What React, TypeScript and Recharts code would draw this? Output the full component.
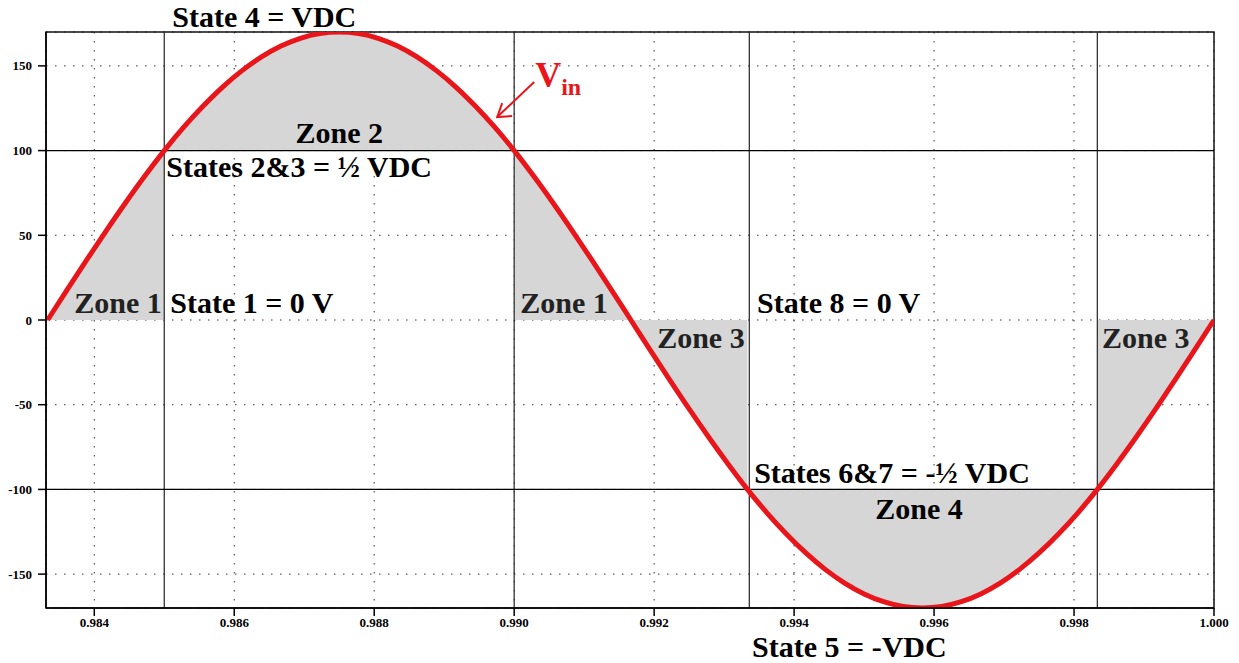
import React from "react";
import {
  ComposedChart,
  Line,
  Area,
  XAxis,
  YAxis,
  CartesianGrid,
  ReferenceLine,
  ReferenceDot,
  ReferenceArea,
} from "recharts";

// Sampled input voltage Vin over one 60 Hz cycle (seconds, volts)
const timeS = [
  0.983333, 0.983611, 0.983889, 0.984167, 0.984444, 0.984722, 0.985, 0.985278,
  0.985556, 0.985833, 0.986111, 0.986389, 0.986667, 0.986944, 0.987222, 0.9875,
  0.987778, 0.988056, 0.988333, 0.988611, 0.988889, 0.989167, 0.989444, 0.989722,
  0.99, 0.990278, 0.990556, 0.990833, 0.991111, 0.991389, 0.991667, 0.991944,
  0.992222, 0.9925, 0.992778, 0.993056, 0.993333, 0.993611, 0.993889, 0.994167,
  0.994444, 0.994722, 0.995, 0.995278, 0.995556, 0.995833, 0.996111, 0.996389,
  0.996667, 0.996944, 0.997222, 0.9975, 0.997778, 0.998056, 0.998333, 0.998611,
  0.998889, 0.999167, 0.999444, 0.999722, 1.0,
];
const vin = [
  0, 17.8, 35.3, 52.5, 69.1, 85.0, 100, 113.8, 126.3, 137.5, 147.2, 155.3, 161.7,
  166.3, 169.1, 170, 169.1, 166.3, 161.7, 155.3, 147.2, 137.5, 126.3, 113.8, 100,
  85.0, 69.1, 52.5, 35.3, 17.8, 0, -17.8, -35.3, -52.5, -69.1, -85.0, -100,
  -113.8, -126.3, -137.5, -147.2, -155.3, -161.7, -166.3, -169.1, -170, -169.1,
  -166.3, -161.7, -155.3, -147.2, -137.5, -126.3, -113.8, -100, -85.0, -69.1,
  -52.5, -35.3, -17.8, 0,
];

// Axis ticks
const xTicks = [0.984, 0.986, 0.988, 0.99, 0.992, 0.994, 0.996, 0.998, 1.0];
const yTicks = [-150, -100, -50, 0, 50, 100, 150];
const xDomain = [0.98331, 1.0];
const yDomain = [-170, 170];

// Switching instants and the ±½ VDC levels
const switchTimes = [0.985, 0.99, 0.99336, 0.998333];
const halfLevels = [100, -100];

// Shaded zones: each fills between Vin and its reference level
const zoneKeys = ["zone1a", "zone2", "zone1b", "zone3a", "zone4", "zone3b"];
const zoneFrom = [0.983333, 0.985, 0.99, 0.991667, 0.993333, 0.998333];
const zoneTo = [0.985, 0.99, 0.991667, 0.993333, 0.998333, 1.0];
const zoneBase = [0, 100, 0, 0, -100, 0];

// Text annotations placed in data coordinates
const noteText = [
  "State 4 = VDC",
  "Zone 2",
  "States 2&3 = ½ VDC",
  "Zone 1",
  "State 1 = 0 V",
  "Zone 1",
  "Zone 3",
  "State 8 = 0 V",
  "Zone 3",
  "States 6&7 = -½ VDC",
  "Zone 4",
  "State 5 = -VDC",
];
const noteT = [
  0.985114, 0.9875, 0.985029, 0.983714, 0.985086, 0.990086, 0.992043, 0.993471,
  0.9984, 0.993429, 0.995786, 0.9934,
];
const noteV = [173, 104.5, 84.4, 4.1, 4.1, 4.1, -16.5, 4.1, -16.5, -96.2, -117.5, -198.9];
const noteAnchor = [
  "start", "middle", "start", "start", "start", "start", "start", "start", "start",
  "start", "middle", "start",
];
const noteColor = [
  "#000", "#000", "#000", "#222", "#000", "#222", "#222", "#000", "#222", "#000",
  "#000", "#000",
];

const vinLabelT = 0.9903;
const vinLabelV = 137.5;
const arrowTipT = 0.989757;
const arrowTipV = 119.8;

const RED = "#e8161b";
const FILL = "#d6d6d6";
const FONT = "'Liberation Serif', 'Times New Roman', serif";

const rows = timeS.map((t, i) => {
  const row: Record<string, any> = { t, v: vin[i] };
  zoneKeys.forEach((k, z) => {
    if (t >= zoneFrom[z] - 1e-6 && t <= zoneTo[z] + 1e-6) {
      row[k] = [Math.min(zoneBase[z], vin[i]), Math.max(zoneBase[z], vin[i])];
    } else {
      row[k] = null;
    }
  });
  return row;
});

const tickStyle = {
  fontFamily: FONT,
  fontWeight: 700,
  fontSize: 13,
  fill: "#000",
};

export default function App() {
  return (
    <div style={{ width: 1239, height: 663, background: "#fff" }}>
      <style>{"body{margin:0;overflow:hidden;background:#fff}"}</style>
      <ComposedChart
        width={1239}
        height={663}
        data={rows}
        margin={{ top: 32, right: 25, left: 0, bottom: 25 }}
      >
        <CartesianGrid stroke="#333" strokeDasharray="1.5 7.5" />
        <XAxis
          dataKey="t"
          type="number"
          domain={xDomain}
          ticks={xTicks}
          allowDataOverflow
          tickFormatter={(v: number) => v.toFixed(3)}
          tick={tickStyle}
          tickSize={8}
          tickMargin={2}
          height={30}
          stroke="#000"
          strokeWidth={1.5}
        />
        <YAxis
          type="number"
          domain={yDomain}
          ticks={yTicks}
          allowDataOverflow
          tick={tickStyle}
          tickSize={8}
          tickMargin={6}
          width={46}
          stroke="#000"
          strokeWidth={1.5}
        />
        {zoneKeys.map((k) => (
          <Area
            key={k}
            dataKey={k}
            type="monotone"
            stroke="none"
            fill={FILL}
            fillOpacity={1}
            isAnimationActive={false}
            connectNulls={false}
            activeDot={false}
          />
        ))}
        {switchTimes.map((t) => (
          <ReferenceLine key={"s" + t} x={t} stroke="#333" strokeWidth={1.3} />
        ))}
        {halfLevels.map((y) => (
          <ReferenceLine key={"h" + y} y={y} stroke="#000" strokeWidth={1.3} />
        ))}
        <ReferenceArea
          x1={xDomain[0]}
          x2={xDomain[1]}
          y1={yDomain[0]}
          y2={yDomain[1]}
          fill="none"
          stroke="#111"
          strokeWidth={1.5}
          ifOverflow="visible"
        />
        <Line
          dataKey="v"
          type="monotone"
          stroke={RED}
          strokeWidth={5}
          dot={false}
          activeDot={false}
          isAnimationActive={false}
        />
        {noteText.map((txt, i) => (
          <ReferenceDot
            key={"n" + i}
            x={noteT[i]}
            y={noteV[i]}
            ifOverflow="visible"
            shape={(p: any) => (
              <text
                x={p.cx}
                y={p.cy}
                textAnchor={noteAnchor[i] as any}
                fontFamily={FONT}
                fontWeight={700}
                fontSize={30}
                fill={noteColor[i]}
              >
                {txt}
              </text>
            )}
          />
        ))}
        <ReferenceDot
          x={vinLabelT}
          y={vinLabelV}
          ifOverflow="visible"
          shape={(p: any) => (
            <text x={p.cx} y={p.cy} fontFamily={FONT} fontWeight={700} fill={RED}>
              <tspan fontSize={36}>V</tspan>
              <tspan fontSize={24} dy={8}>
                in
              </tspan>
            </text>
          )}
        />
        <ReferenceDot
          x={arrowTipT}
          y={arrowTipV}
          ifOverflow="visible"
          shape={(p: any) => (
            <g stroke={RED} strokeWidth={2} fill="none">
              <line x1={p.cx} y1={p.cy} x2={p.cx + 37} y2={p.cy - 35} />
              <polyline
                points={`${p.cx + 5},${p.cy - 14} ${p.cx},${p.cy} ${p.cx + 15},${p.cy - 1}`}
              />
            </g>
          )}
        />
      </ComposedChart>
    </div>
  );
}
